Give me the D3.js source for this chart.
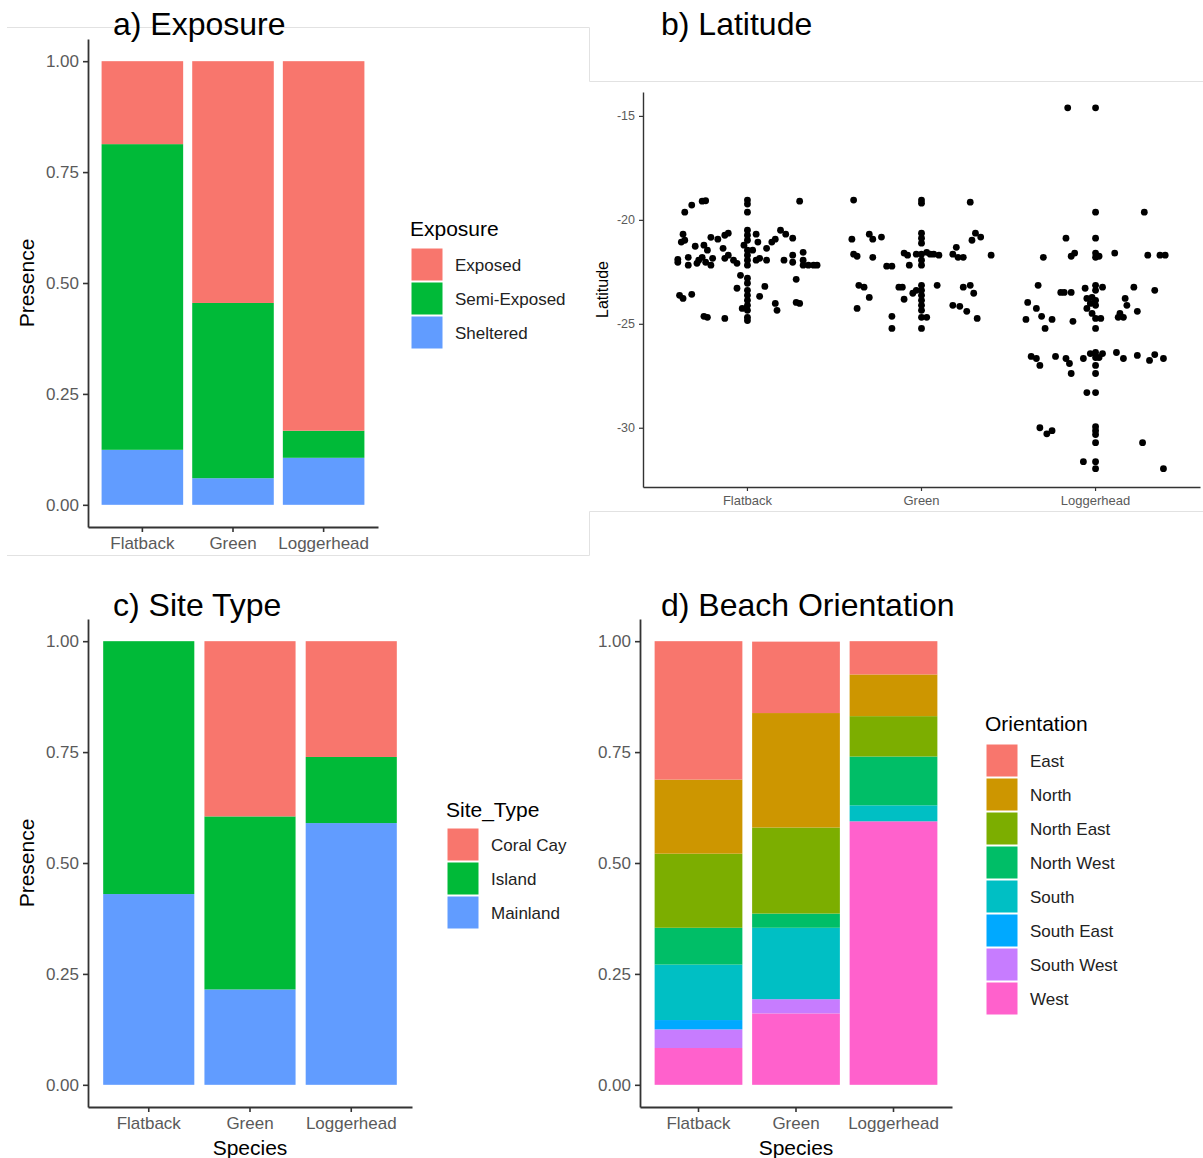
<!DOCTYPE html>
<html>
<head>
<meta charset="utf-8">
<script src="https://cdn.jsdelivr.net/npm/d3@7"></script>
<style>
  html, body { margin: 0; padding: 0; background: #fff; }
  svg { display: block; font-family: "Liberation Sans", Arial, Helvetica, sans-serif; }
</style>
</head>
<body>
<svg id="chart" width="1203" height="1158"></svg>
<script>
// ---------------- DATA ----------------
const species = ["Flatback", "Green", "Loggerhead"];
const yTicks = [0, 0.25, 0.5, 0.75, 1];

// a) Exposure (proportions per species)
const exposureLevels = ["Exposed", "Semi-Exposed", "Sheltered"];
const exposureExposed   = [0.187, 0.545, 0.833];
const exposureSemi      = [0.689, 0.395, 0.061];
const exposureSheltered = [0.124, 0.060, 0.106];

// c) Site type
const siteLevels = ["Coral Cay", "Island", "Mainland"];
const siteCoralCay = [0.000, 0.395, 0.261];
const siteIsland   = [0.570, 0.390, 0.149];
const siteMainland = [0.430, 0.215, 0.590];

// d) Beach orientation
const orientLevels = ["East", "North", "North East", "North West", "South", "South East", "South West", "West"];
const orientEast      = [0.312, 0.161, 0.075];
const orientNorth     = [0.167, 0.258, 0.094];
const orientNorthEast = [0.167, 0.194, 0.091];
const orientNorthWest = [0.083, 0.032, 0.110];
const orientSouth     = [0.125, 0.161, 0.036];
const orientSouthEast = [0.021, 0.000, 0.000];
const orientSouthWest = [0.042, 0.032, 0.000];
const orientWest      = [0.083, 0.161, 0.594];

// b) Latitude (jitter offset in category units, latitude)
const latTicks = [-15, -20, -25, -30];
const flatbackJitter = [-0.36,-0.32,-0.26,-0.24,0,0,0,0.30,
  -0.37,-0.38,-0.36,-0.21,-0.17,-0.13,-0.11,0,0,0,0.05,0.06,0.11,0.14,0.16,0.19,0.22,0.26,
  -0.30,-0.25,-0.23,-0.40,-0.40,-0.34,-0.34,-0.29,-0.28,-0.26,-0.24,-0.21,-0.20,-0.14,-0.13,-0.11,-0.08,-0.06,-0.02,0,0,0,0,0.03,0.05,0.07,0.11,0.21,0.26,0.26,0.32,0.32,0.32,0.35,0.38,0.40,
  -0.04,0,0,-0.06,0.10,0.28,0,0,0,0,0,0,-0.39,-0.37,-0.32,0.07,0.16,0.17,0.28,0.30,-0.25,-0.23,-0.13,0,-0.03];
const flatbackLat = [-19.63,-19.29,-19.10,-19.08,-19.05,-19.24,-19.63,-19.10,
  -20.69,-21.07,-20.98,-20.84,-20.93,-20.74,-20.64,-20.50,-20.74,-20.98,-20.69,-21.07,-21.37,-21.07,-20.93,-20.50,-20.69,-20.88,
  -21.27,-21.22,-21.46,-21.90,-22.04,-21.80,-22.18,-22.09,-21.94,-21.80,-22.04,-22.18,-21.85,-21.37,-21.85,-21.70,-21.94,-22.09,-21.22,-21.46,-21.70,-21.94,-22.18,-21.46,-21.94,-21.85,-21.94,-21.94,-21.70,-22.04,-21.56,-21.94,-22.18,-22.18,-22.18,-22.18,
  -22.67,-22.81,-23.05,-23.29,-23.20,-22.86,-23.39,-23.63,-23.87,-24.11,-24.35,-24.69,-23.63,-23.78,-23.58,-23.68,-24.02,-24.35,-23.97,-24.02,-24.64,-24.69,-24.74,-24.84,-24.26];
const greenJitter = [-0.39,0,0,0.28,
  -0.40,-0.30,-0.28,-0.23,0,0,0,0.31,0.34,0.29,
  -0.39,-0.37,-0.28,-0.10,-0.08,-0.03,0,0.03,0.05,0.07,0.10,0,0,-0.07,-0.20,-0.17,0.20,0.18,0.21,0.24,0.40,
  -0.36,-0.33,-0.30,-0.37,-0.13,-0.11,-0.10,-0.05,-0.03,0,0,0,0,0,0,0,0.03,0.09,0.24,0.28,0.30,0.18,0.22,0.26,0.32,-0.17,-0.17,0];
const greenLat = [-19.05,-19.05,-19.20,-19.15,
  -20.93,-20.69,-20.93,-20.83,-20.64,-20.88,-21.12,-20.64,-20.83,-20.98,
  -21.65,-21.75,-21.80,-21.60,-21.70,-21.65,-21.65,-21.56,-21.65,-21.65,-21.70,-21.94,-22.18,-22.18,-22.23,-22.23,-21.32,-21.65,-21.80,-21.80,-21.70,
  -23.15,-23.24,-23.73,-24.26,-23.24,-23.24,-23.82,-23.53,-23.39,-23.15,-23.39,-23.63,-23.87,-24.11,-24.35,-24.69,-24.69,-23.15,-23.24,-23.15,-23.53,-24.11,-24.16,-24.40,-24.74,-24.64,-25.22,-25.22];
const loggerheadJitter = [-0.16,0,0,0.28,-0.17,0,
  -0.30,-0.14,-0.12,0,0,0.02,0.11,0.30,0.37,0.40,
  -0.33,-0.20,-0.18,-0.14,-0.06,0,0,0.04,0.22,0.34,
  -0.39,-0.34,-0.31,-0.40,-0.29,-0.25,-0.13,-0.05,-0.03,-0.05,-0.02,0,0,-0.02,0,0.03,0,0.17,0.18,0.14,0.13,0.16,0.24,
  -0.37,-0.34,-0.32,-0.23,-0.17,-0.15,-0.14,-0.07,-0.03,0,0,0,0,0.02,0.04,0.12,0.16,0.24,0.31,0.34,0.39,
  -0.05,0,-0.32,-0.28,-0.25,0,0,0,0,0.27,-0.07,0,0,0.39];
const loggerheadLat = [-14.61,-14.61,-19.63,-19.63,-20.88,-20.88,
  -21.80,-21.75,-21.60,-21.60,-21.80,-21.75,-21.60,-21.70,-21.70,-21.70,
  -23.15,-23.49,-23.49,-23.49,-23.29,-23.15,-23.39,-23.24,-23.24,-23.39,
  -23.97,-24.26,-24.64,-24.79,-25.22,-24.79,-24.88,-23.78,-24.02,-24.26,-23.73,-23.87,-24.11,-24.50,-24.74,-24.74,-25.22,-23.78,-24.11,-24.50,-24.69,-24.69,-24.40,
  -26.57,-26.67,-27.00,-26.57,-26.67,-26.91,-27.39,-26.67,-26.43,-26.38,-26.62,-27.00,-27.39,-26.62,-26.43,-26.38,-26.67,-26.52,-26.76,-26.48,-26.67,
  -28.31,-28.31,-30.00,-30.29,-30.14,-29.95,-30.14,-30.33,-30.72,-30.72,-31.63,-31.63,-31.97,-31.97];

// ---------------- STYLE ----------------
const hue3 = ["#F8766D", "#00BA38", "#619CFF"];
const hue8 = ["#F8766D", "#CD9600", "#7CAE00", "#00BE67", "#00BFC4", "#00A9FF", "#C77CFF", "#FF61CC"];
const AXIS = "#333333", TICKTXT = "#5a5a5a";

const svg = d3.select("#chart");
svg.append("rect").attr("width", 1203).attr("height", 1158).attr("fill", "#fff");

// faint screenshot borders
svg.append("path").attr("d", "M7,27.5H589.5V81.5H1203").attr("fill", "none").attr("stroke", "#e2e2e2").attr("stroke-width", 1);
svg.append("path").attr("d", "M1203,511.5H589.5V555.5H7").attr("fill", "none").attr("stroke", "#e2e2e2").attr("stroke-width", 1);

function title(x, y, txt) {
  svg.append("text").attr("x", x).attr("y", y).attr("font-size", 32).attr("fill", "#000").text(txt);
}

function stackedPanel(cfg) {
  const g = svg.append("g");
  const x = d3.scaleBand().domain(species).range([cfg.x0, cfg.x1]).paddingInner(0.1).paddingOuter(0.15);
  const y = d3.scaleLinear().domain([-0.05, 1.05]).range([cfg.yB, cfg.yT]);
  const color = d3.scaleOrdinal().domain(cfg.levels).range(cfg.colors);

  const table = species.map((s, i) => {
    const row = { species: s };
    cfg.levels.forEach((lv, k) => row[lv] = cfg.values[k][i]);
    return row;
  });
  // ggplot stacks first level on top
  const stack = d3.stack().keys(cfg.levels.slice().reverse());
  const series = stack(table);
  g.selectAll("g.s").data(series).join("g").attr("fill", d => color(d.key))
    .selectAll("rect").data(d => d).join("rect")
    .attr("x", d => x(d.data.species))
    .attr("width", x.bandwidth())
    .attr("y", d => y(d[1]))
    .attr("height", d => Math.max(0, y(d[0]) - y(d[1])));

  const ya = g.append("g").attr("transform", `translate(${cfg.x0},0)`)
    .call(d3.axisLeft(y).tickValues(yTicks).tickFormat(d3.format(".2f")).tickSize(5).tickSizeOuter(0).tickPadding(4));
  const xa = g.append("g").attr("transform", `translate(0,${cfg.yB})`)
    .call(d3.axisBottom(x).tickSize(5).tickSizeOuter(0).tickPadding(3));
  [ya, xa].forEach(a => {
    a.select(".domain").attr("stroke", AXIS).attr("stroke-width", 1.8);
    a.selectAll(".tick line").attr("stroke", AXIS).attr("stroke-width", 1.6);
    a.selectAll(".tick text").attr("fill", TICKTXT).attr("font-size", 17)
      .attr("font-family", "Liberation Sans, Arial, sans-serif");
  });
  xa.selectAll(".tick text").attr("dy", "0.8em");

  if (cfg.yLabel) {
    g.append("text").attr("transform", `translate(${cfg.yLabelX},${(cfg.yT + cfg.yB) / 2}) rotate(-90)`)
      .attr("text-anchor", "middle").attr("font-size", 21).attr("fill", "#000").text(cfg.yLabel);
  }
  if (cfg.xLabel) {
    g.append("text").attr("x", (cfg.x0 + cfg.x1) / 2).attr("y", cfg.xLabelY)
      .attr("text-anchor", "middle").attr("font-size", 21).attr("fill", "#000").text(cfg.xLabel);
  }

  const lg = g.append("g");
  lg.append("text").attr("x", cfg.legX - 1).attr("y", cfg.legTitleY).attr("font-size", 21).attr("fill", "#000").text(cfg.legTitle);
  cfg.levels.forEach((lv, k) => {
    const ky = cfg.legKeyY + k * 34;
    lg.append("rect").attr("x", cfg.legX).attr("y", ky).attr("width", 32).attr("height", 33)
      .attr("fill", color(lv)).attr("stroke", "#fff").attr("stroke-width", 1);
    lg.append("text").attr("x", cfg.legX + 44).attr("y", ky + 17).attr("dy", "0.35em")
      .attr("font-size", 17).attr("fill", "#222").text(lv);
  });
}

// a) Exposure
title(113, 35, "a) Exposure");
stackedPanel({
  x0: 88, x1: 378, yT: 39, yB: 527,
  levels: exposureLevels, colors: hue3,
  values: [exposureExposed, exposureSemi, exposureSheltered],
  yLabel: "Presence", yLabelX: 34,
  legTitle: "Exposure", legX: 411, legTitleY: 236, legKeyY: 248
});

// c) Site Type
title(113, 616, "c) Site Type");
stackedPanel({
  x0: 88, x1: 412, yT: 619, yB: 1107,
  levels: siteLevels, colors: hue3,
  values: [siteCoralCay, siteIsland, siteMainland],
  yLabel: "Presence", yLabelX: 34,
  xLabel: "Species", xLabelY: 1155,
  legTitle: "Site_Type", legX: 447, legTitleY: 817, legKeyY: 828
});

// d) Beach Orientation
title(661, 616, "d) Beach Orientation");
stackedPanel({
  x0: 640, x1: 952, yT: 619, yB: 1107,
  levels: orientLevels, colors: hue8,
  values: [orientEast, orientNorth, orientNorthEast, orientNorthWest, orientSouth, orientSouthEast, orientSouthWest, orientWest],
  xLabel: "Species", xLabelY: 1155,
  legTitle: "Orientation", legX: 986, legTitleY: 731, legKeyY: 744
});

// b) Latitude scatter
title(661, 35, "b) Latitude");
(function () {
  const g = svg.append("g");
  const X0 = 643, X1 = 1200, YT = 92, YB = 487;
  const xb = d3.scaleBand().domain(species).range([X0, X1]).paddingInner(0.1).paddingOuter(0.15);
  const xl = d3.scaleLinear().domain([0.4, 3.6]).range([X0, X1]);
  const y = d3.scaleLinear().domain([-32.85, -13.85]).range([YB, YT]);
  const pts = [];
  [[flatbackJitter, flatbackLat], [greenJitter, greenLat], [loggerheadJitter, loggerheadLat]].forEach(([jit, lat], i) => {
    lat.forEach((v, k) => pts.push({ x: i + 1 + jit[k], y: v }));
  });
  g.selectAll("circle").data(pts).join("circle")
    .attr("cx", d => xl(d.x)).attr("cy", d => y(d.y)).attr("r", 3.4).attr("fill", "#000");

  const ya = g.append("g").attr("transform", `translate(${X0},0)`)
    .call(d3.axisLeft(y).tickValues(latTicks).tickFormat(d => String(d)).tickSize(4).tickSizeOuter(0).tickPadding(4));
  const xa = g.append("g").attr("transform", `translate(0,${YB})`)
    .call(d3.axisBottom(xb).tickSize(4).tickSizeOuter(0).tickPadding(3));
  [ya, xa].forEach(a => {
    a.select(".domain").attr("stroke", AXIS).attr("stroke-width", 1.4);
    a.selectAll(".tick line").attr("stroke", AXIS).attr("stroke-width", 1.2);
    a.selectAll(".tick text").attr("fill", TICKTXT).attr("font-size", 12.5)
      .attr("font-family", "Liberation Sans, Arial, sans-serif");
  });
  xa.selectAll(".tick text").attr("font-size", 13).attr("dy", "0.85em");
  g.append("text").attr("transform", `translate(608,${(YT + YB) / 2}) rotate(-90)`)
    .attr("text-anchor", "middle").attr("font-size", 16).attr("fill", "#000").text("Latitude");
})();
</script>
</body>
</html>
